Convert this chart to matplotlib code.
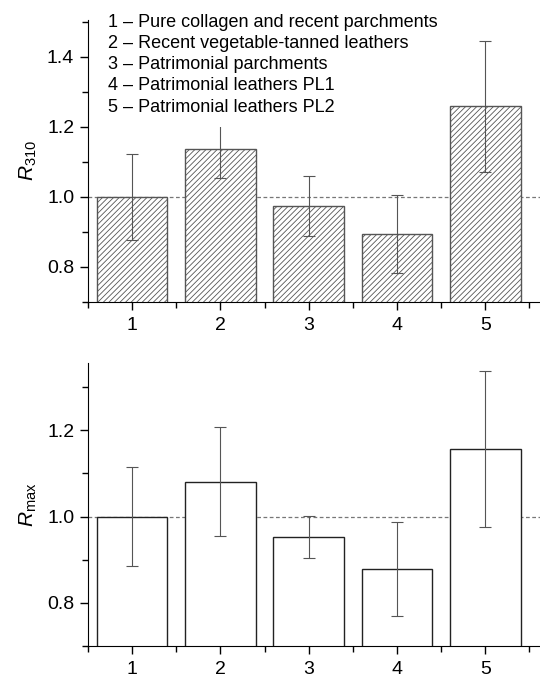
import numpy as np
import matplotlib
matplotlib.use('Agg')
import matplotlib.pyplot as plt
from matplotlib.ticker import MultipleLocator, FixedLocator
from matplotlib.patches import Rectangle

plt.rcParams['font.family'] = ['Liberation Sans', 'DejaVu Sans']
plt.rcParams['mathtext.fontset'] = 'custom'
plt.rcParams['mathtext.rm'] = 'Liberation Sans'
plt.rcParams['mathtext.it'] = 'Liberation Sans:italic'
plt.rcParams['hatch.color'] = '#6a6a6a'
plt.rcParams['hatch.linewidth'] = 0.6

groups = [1, 2, 3, 4, 5]
labels = ['1 – Pure collagen and recent parchments',
          '2 – Recent vegetable-tanned leathers',
          '3 – Patrimonial parchments',
          '4 – Patrimonial leathers PL1',
          '5 – Patrimonial leathers PL2']

r310 = [1.000, 1.137, 0.974, 0.894, 1.259]
r310_err = [0.123, 0.082, 0.086, 0.111, 0.187]

rmax = [1.000, 1.081, 0.953, 0.878, 1.156]
rmax_err = [0.114, 0.127, 0.049, 0.109, 0.181]

fig = plt.figure(figsize=(5.4, 6.78), dpi=100)
ax1 = fig.add_axes([0.163, 0.5546, 0.837, 0.416])
ax2 = fig.add_axes([0.163, 0.0472, 0.837, 0.417])


def style(ax, ymax, ylabel):
    ax.set_xlim(0.5, 5.62)
    ax.set_ylim(0.7, ymax)
    ax.axhline(1.0, color='#777777', ls=(0, (3, 2)), lw=0.9, zorder=1)
    ax.spines['top'].set_visible(False)
    ax.spines['right'].set_visible(False)
    ax.set_xticks(groups)
    ax.xaxis.set_minor_locator(FixedLocator([0.5, 1.5, 2.5, 3.5, 4.5, 5.5]))
    ax.yaxis.set_major_locator(MultipleLocator(0.2))
    ax.yaxis.set_minor_locator(MultipleLocator(0.1))
    ax.tick_params(which='major', direction='out', length=6, width=1, labelsize=14, pad=4)
    ax.tick_params(axis='x', which='major', pad=5)
    ax.tick_params(which='minor', direction='out', length=4, width=1)
    ax.set_ylabel(ylabel, fontsize=15, labelpad=6)


# top panel: hatched bars
ax1.bar(groups, r310, width=0.8, color='white', edgecolor='#555555',
        hatch='//////', linewidth=1, zorder=2)
ax1.errorbar(groups, r310, yerr=r310_err, fmt='none', ecolor='#555555',
             elinewidth=0.8, capsize=4, capthick=0.8, zorder=3)
style(ax1, 1.505, r'$R_{\mathrm{310}}$')
ax1.set_yticks([0.8, 1.0, 1.2, 1.4])
# white area behind the legend text (it hides the top of error bar 2)
ax1.add_patch(Rectangle((0.6, 1.2), 3.9, 0.32, facecolor='white',
                        edgecolor='none', zorder=4))
ax1.text(0.044, 1.021, '\n'.join(labels), transform=ax1.transAxes, fontsize=13,
         va='top', ha='left', linespacing=1.32, zorder=5)

# bottom panel: open bars
ax2.bar(groups, rmax, width=0.8, color='white', edgecolor='#222222',
        linewidth=1, zorder=2)
ax2.errorbar(groups, rmax, yerr=rmax_err, fmt='none', ecolor='#555555',
             elinewidth=0.8, capsize=4, capthick=0.8, zorder=3)
style(ax2, 1.355, r'$R_{\mathrm{max}}$')
ax2.set_yticks([0.8, 1.0, 1.2])

fig.savefig('out.png', dpi=100)
